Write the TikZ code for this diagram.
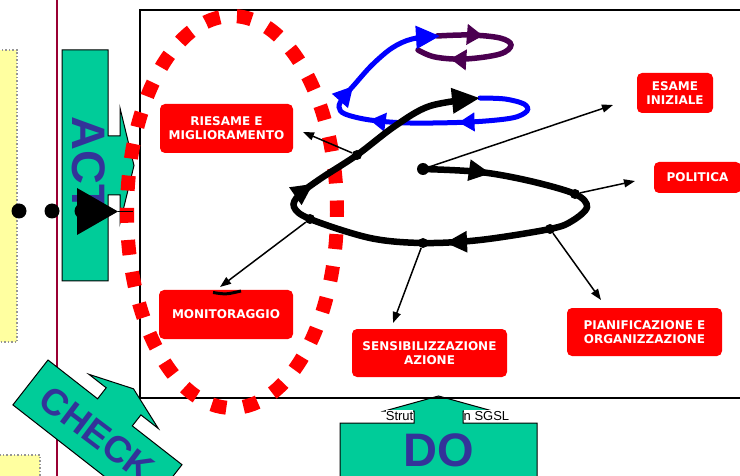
\documentclass[tikz,border=0pt]{standalone}
\usepackage{fontspec}
\setmainfont{Liberation Sans}
\newfontfamily\boxfont{DejaVu Sans}[BoldFont={DejaVu Sans Bold}]
\usetikzlibrary{arrows.meta,decorations.markings}
\definecolor{callgreen}{RGB}{0,204,153}
\definecolor{textblue}{RGB}{51,51,153}
\definecolor{loopblue}{RGB}{0,0,255}
\definecolor{looppurple}{RGB}{75,0,80}
\definecolor{vline}{RGB}{153,0,51}
\definecolor{paleyellow}{RGB}{255,255,160}
\definecolor{dotgray}{RGB}{150,150,150}
\definecolor{boxred}{RGB}{255,0,0}
\begin{document}
\begin{tikzpicture}[x=1pt,y=-1pt,
  yellowbox/.style={fill=paleyellow, draw=dotgray, line width=1.5pt, dotted},
  callout/.style={fill=callgreen, draw=black, line width=1pt, line join=miter},
  bigtext/.style={text=textblue, font=\fontsize{47}{50}\selectfont\bfseries, inner sep=0pt},
  checktext/.style={text=textblue, font=\fontsize{37}{40}\selectfont\bfseries, inner sep=0pt},
  smalltext/.style={fill=white, inner xsep=0pt, inner ysep=1.5pt, font=\fontsize{13}{13}\selectfont},
  frame/.style={draw=black, line width=1.5pt},
  redbox/.style={fill=boxred, rounded corners=5pt, text=white, align=center, inner sep=0pt,
    font=\boxfont\bfseries\fontsize{12}{14}\selectfont},
  pdot/.style={circle, fill=black, inner sep=0pt, minimum size=10pt},
  bigdot/.style={circle, fill=black, inner sep=0pt, minimum size=15pt},
  thinarr/.style={-{Triangle[length=11pt,width=8pt]}, line width=1.5pt},
  reddots/.style={draw=boxred, line width=14pt, dash pattern=on 15pt off 17.2pt, dash phase=3.5pt},
  blackpath/.style={draw=black, line width=6.5pt, line cap=round},
  bluepath/.style={draw=loopblue, line width=5pt, line cap=round},
  purplepath/.style={draw=looppurple, line width=5.5pt, line cap=round},
]
\useasboundingbox (0,0) rectangle (740,476);
\clip (0,0) rectangle (740,476);

% yellow side boxes and vertical line
\draw[yellowbox] (-5,50) rectangle (17,342);
\draw[yellowbox] (-5,455) rectangle (40,490);
\draw[vline, line width=2pt] (57,-5) -- (57,481);

% ACT callout
\draw[callout] (62,50) -- (108,50) -- (108,136) -- (120,136) -- (120,108) -- (134,165.5)
  -- (120,223) -- (120,195) -- (108,195) -- (108,281) -- (62,281) -- cycle;
\node[bigtext, rotate=-90] (act) at (89,164.5) {ACT};

% CHECK callout
\draw[callout] (48,360) -- (97.6,398.8) -- (106.2,387.8) -- (88.9,374.3) -- (133.5,388.8)
  -- (158.3,428.5) -- (140.9,414.9) -- (132.3,425.9) -- (182,464.7) -- (146.9,509.6)
  -- (12.9,404.9) -- cycle;
\node[checktext, rotate=-37] (check) at (97,434) {CHECK};

% DO callout
\draw[callout] (340,423) -- (414,423) -- (414,411) -- (384.5,411) -- (438.5,396) -- (492.5,411)
  -- (463,411) -- (463,423) -- (537,423) -- (537,500) -- (340,500) -- cycle;
\node[bigtext] (do) at (439,450) {DO};
\node[smalltext, anchor=base east] (strut) at (413.5,420.5) {Strut};
\node[smalltext, anchor=base west] (sgsl) at (463.5,420.5) {n SGSL};

% main frame
\draw[frame] (140,10) rectangle (760,398);

% red boxes
\node[redbox, minimum width=133pt, minimum height=49pt] (riesame) at (226.5,128.5) {RIESAME E\\MIGLIORAMENTO};
\node[redbox, minimum width=76pt, minimum height=40pt] (esame) at (675,93) {ESAME\\INIZIALE};
\node[redbox, minimum width=87pt, minimum height=31pt] (politica) at (697.5,177.5) {POLITICA};
\node[redbox, minimum width=134pt, minimum height=49pt] (monitor) at (226,314.5) {MONITORAGGIO};
\node[redbox, minimum width=155pt, minimum height=48pt] (sensib) at (429.5,353) {SENSIBILIZZAZIONE\\AZIONE};
\node[redbox, minimum width=155pt, minimum height=48pt] (pianif) at (644.5,332) {PIANIFICAZIONE E\\ORGANIZZAZIONE};
\draw[line width=3pt] (213,292.5) .. controls (226,294.5) .. (241,291);

% red dotted ellipse
\draw[reddots] (232,212) ellipse [x radius=105pt, y radius=196pt];

% loops
\draw[purplepath, postaction={decorate}, decoration={markings,
    mark=at position 46pt with {\arrow{Triangle[length=16pt,width=20pt]}},
    mark=at position 142pt with {\arrow{Triangle[length=16pt,width=20pt]}}}]
  plot[smooth, tension=0.6] coordinates {(437,36) (470,35) (500,38) (511,45) (500,54) (465,59) (435,57) (418,50)};
\draw[bluepath, -{Triangle[length=24pt,width=22pt]}, postaction={decorate}, decoration={markings,
    mark=at position 124pt with {\arrow{Triangle[length=16pt,width=18pt]}},
    mark=at position 213pt with {\arrow{Triangle[length=16pt,width=18pt]}},
    mark=at position 274pt with {\arrow{Triangle[length=20pt,width=20pt]}}}]
  plot[smooth, tension=0.55] coordinates {(480,98) (505,99) (524,104) (527,111) (512,118) (470,122) (410,123)
    (370,120) (345,114) (339,107) (343,98) (355,84) (372,65) (392,48) (412,39) (440,36)};
\draw[blackpath, -{Triangle[length=28pt,width=24pt]}, postaction={decorate}, decoration={markings,
    mark=at position 68pt with {\arrow{Triangle[length=22pt,width=20pt]}},
    mark=at position 324pt with {\arrow{Triangle[length=22pt,width=20pt]}},
    mark=at position 515pt with {\arrow{Triangle[length=22pt,width=20pt]}}}]
  plot[smooth, tension=0.55] coordinates {(423,169) (480,172) (530,181) (575,194) (587,207) (572,221)
    (550,229) (480,240) (423,243) (370,238) (310,219) (294,207) (299,195) (320,179) (357,155)
    (395,126) (430,106) (480,98)};

% dots on the spiral and thin arrows
\node[pdot, minimum size=12pt] (s0) at (423,169) {};
\node[pdot] (d1) at (357,155) {};
\node[pdot] (d2) at (575,194) {};
\node[pdot] (d3) at (550,229) {};
\node[pdot] (d4) at (423,243) {};
\node[pdot] (d5) at (310,219) {};
\coordinate (t0) at (613,105);
\coordinate (t1) at (303,132);
\coordinate (t2) at (635,181);
\coordinate (t3) at (601,300);
\coordinate (t4) at (393,323);
\coordinate (t5) at (220,287);
\draw[thinarr] (s0) -- (t0);
\draw[thinarr] (d1) -- (t1);
\draw[thinarr] (d2) -- (t2);
\draw[thinarr] (d3) -- (t3);
\draw[thinarr] (d4) -- (t4);
\draw[thinarr] (d5) -- (t5);

% left dots and triangle
\node[bigdot] (l1) at (19,211) {};
\node[bigdot] (l2) at (52,211) {};
\node[bigdot] (l3) at (82,211) {};
\fill[black] (77,188) -- (77,235) -- (118,211.5) -- cycle;
\coordinate (trtip) at (118,211.5);
\coordinate (trend) at (133,211.5);
\draw[line width=1.2pt] (trtip) -- (trend);
\end{tikzpicture}
\end{document}
